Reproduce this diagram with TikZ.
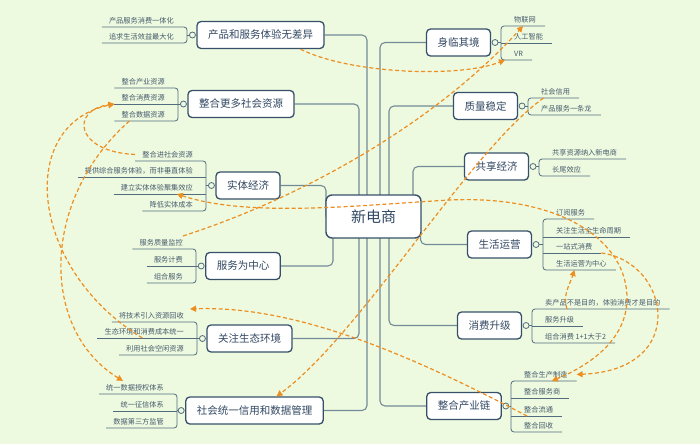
\documentclass[tikz,border=0pt]{standalone}
\usepackage{fontspec}
\newfontfamily\cjk{Noto Sans CJK SC}
\usetikzlibrary{positioning,arrows.meta}
\definecolor{bgcol}{RGB}{238,250,224}
\definecolor{boxline}{RGB}{55,80,105}
\definecolor{boxtext}{RGB}{50,72,98}
\definecolor{branchline}{RGB}{115,138,152}
\definecolor{subline}{RGB}{82,108,128}
\definecolor{subtext}{RGB}{70,90,108}
\definecolor{relline}{RGB}{236,142,32}
\pgfdeclarelayer{back}
\pgfdeclarelayer{lines}
\pgfsetlayers{back,lines,main}
\tikzset{
  rootbox/.style={draw=boxline, line width=1.4pt, fill=white, rounded corners=6pt, text=boxtext,
    font=\cjk\fontsize{15}{18}\selectfont, minimum height=43pt, inner xsep=25pt},
  topicbox/.style={draw=boxline, line width=1.3pt, fill=white, rounded corners=4pt, text=boxtext,
    font=\cjk\fontsize{10.5}{12}\selectfont, minimum height=27pt, inner xsep=11pt},
  knob/.style={circle, draw=subline, line width=0.8pt, fill=bgcol, minimum size=6pt, inner sep=0pt},
  subl/.style={anchor=south east, text=subtext, font=\cjk\fontsize{7.2}{8}\selectfont,
    inner xsep=0pt, inner ysep=3pt, execute at begin node=\hspace*{7pt}, execute at end node=\hspace*{13pt}},
  subr/.style={anchor=south west, text=subtext, font=\cjk\fontsize{7.2}{8}\selectfont,
    inner xsep=0pt, inner ysep=3pt, execute at begin node=\hspace*{13pt}, execute at end node=\hspace*{9pt}},
  bracket/.style={draw=subline, line width=0.8pt, rounded corners=3pt},
  branch/.style={draw=branchline, line width=1.1pt, rounded corners=5pt},
  rel/.style={draw=relline, line width=1.2pt, dash pattern=on 4pt off 2.5pt, -{Triangle[length=6pt,width=6pt]}},
  relboth/.style={rel, {Triangle[length=6pt,width=6pt]}-{Triangle[length=6pt,width=6pt]}},
}
\begin{document}
\begin{tikzpicture}[x=1pt,y=-1pt]
\begin{pgfonlayer}{back}
\fill[bgcol] (0,0) rectangle (700,444);
\end{pgfonlayer}
\useasboundingbox (0,0) rectangle (700,444);

\node[rootbox] (xds) at (373.5,216.5) {新电商};

\node[topicbox] (cpfw) at (260.5,35) {产品和服务体验无差异};
\node[topicbox] (zhzy) at (241,104) {整合更多社会资源};
\node[topicbox] (stjj) at (248,185.5) {实体经济};
\node[topicbox] (fwzx) at (243,266) {服务为中心};
\node[topicbox] (gzst) at (249.5,338.5) {关注生态环境};
\node[topicbox] (tyxy) at (254.5,410.5) {社会统一信用和数据管理};
\node[topicbox] (sljj) at (458.5,42.5) {身临其境};
\node[topicbox] (zlwd) at (485.5,106) {质量稳定};
\node[topicbox] (gxjj) at (496.5,166.5) {共享经济};
\node[topicbox] (shyy) at (499.5,244.5) {生活运营};
\node[topicbox] (xfsj) at (489.5,325.5) {消费升级};
\node[topicbox] (cyl) at (464,406) {整合产业链};

\node[knob, left=0.5pt of cpfw] (kcpfw) {};
\node[knob, left=0.5pt of zhzy] (kzhzy) {};
\node[knob, left=0.5pt of stjj] (kstjj) {};
\node[knob, left=0.5pt of fwzx] (kfwzx) {};
\node[knob, left=0.5pt of gzst] (kgzst) {};
\node[knob, left=0.5pt of tyxy] (ktyxy) {};
\node[knob, right=0.5pt of sljj] (ksljj) {};
\node[knob, right=0.5pt of zlwd] (kzlwd) {};
\node[knob, right=0.5pt of gxjj] (kgxjj) {};
\node[knob, right=0.5pt of shyy] (kshyy) {};
\node[knob, right=0.5pt of xfsj] (kxfsj) {};
\node[knob, right=0.5pt of cyl] (kcyl) {};

\node[subl] (yth) at (187,27) {产品服务消费一体化};
\node[subl] (zdh) at (187,43) {追求生活效益最大化};
\node[subl] (cyzy) at (178,88) {整合产业资源};
\node[subl] (xfzy) at (178,104) {整合消费资源};
\node[subl] (sjzy) at (178,121) {整合数据资源};
\node[subl] (jrsh) at (206,161) {整合进社会资源};
\node[subl] (zhty) at (206,177) {提供综合服务体验，而非垂直体验};
\node[subl] (jjxy) at (206,194) {建立实体体验聚集效应};
\node[subl] (stcb) at (206,211) {降低实体成本};
\node[subl] (zljk) at (196,249) {服务质量监控};
\node[subl] (fwjf) at (196,266) {服务计费};
\node[subl] (zhfw) at (196,283) {组合服务};
\node[subl] (zyhs) at (197,322) {将技术引入资源回收};
\node[subl] (cbty) at (197,338) {生态环境和消费成本统一};
\node[subl] (kxzy) at (197,355) {利用社会空闲资源};
\node[subl] (sqtx) at (177,394) {统一数据授权体系};
\node[subl] (zxtx) at (177,411) {统一征信体系};
\node[subl] (dsfjg) at (177,428) {数据第三方监管};

\node[subr] (wlw) at (501,26) {物联网};
\node[subr] (rgzn) at (501,43) {人工智能};
\node[subr] (vr) at (501,60) {VR};
\node[subr] (shxy) at (528,98) {社会信用};
\node[subr] (ytl) at (528,115) {产品服务一条龙};
\node[subr] (gxzy) at (539,159) {共享资源纳入新电商};
\node[subr] (cwxy) at (539,176) {长尾效应};
\node[subr] (dyfw) at (543,219) {订阅服务};
\node[subr] (smzq) at (543,237) {关注生活全生命周期};
\node[subr] (yzs) at (543,253) {一站式消费};
\node[subr] (yyzx) at (543,270) {生活运营为中心};
\node[subr] (tyxf) at (532,309) {卖产品不是目的，体验消费才是目的};
\node[subr] (fwsj) at (532,326) {服务升级};
\node[subr] (zhxf) at (532,343) {组合消费 1+1大于2};
\node[subr] (sczz) at (511,381) {整合生产制造};
\node[subr] (fws) at (511,398) {整合服务商};
\node[subr] (lt) at (511,416) {整合流通};
\node[subr] (hs) at (511,432) {整合回收};

\begin{pgfonlayer}{lines}
\draw[branch] ([xshift=-6.5pt]xds.center) |- (cpfw.east);
\draw[branch] ([xshift=-6.5pt]xds.center) |- (tyxy.east);
\draw[branch] ([xshift=-14.5pt]xds.center) |- (zhzy.east);
\draw[branch] ([xshift=-14.5pt]xds.center) |- (gzst.east);
\draw[branch] ([xshift=-47.5pt]xds.center) |- (stjj.east);
\draw[branch] ([xshift=-40.5pt]xds.center) |- (fwzx.east);
\draw[branch] ([xshift=6.5pt]xds.center) |- (sljj.west);
\draw[branch] ([xshift=6.5pt]xds.center) |- (cyl.west);
\draw[branch] ([xshift=15.5pt]xds.center) |- (zlwd.west);
\draw[branch] ([xshift=15.5pt]xds.center) |- (xfsj.west);
\draw[branch] ([xshift=39.5pt]xds.center) |- (gxjj.west);
\draw[branch] ([xshift=47pt]xds.center) |- (shyy.west);
\end{pgfonlayer}

\draw[bracket] (yth.south west) -- (yth.south east) -- (zdh.south east) -- (zdh.south west);
\draw[bracket] (kcpfw.west) -- (kcpfw.west -| yth.south east);
\draw[bracket] (cyzy.south west) -- (cyzy.south east) -- (sjzy.south east) -- (sjzy.south west);
\draw[bracket] (xfzy.south west) -- (xfzy.south east);
\draw[bracket] (kzhzy.west) -- (kzhzy.west -| cyzy.south east);
\draw[bracket] (jrsh.south west) -- (jrsh.south east) -- (stcb.south east) -- (stcb.south west);
\draw[bracket] (zhty.south west) -- (zhty.south east);
\draw[bracket] (jjxy.south west) -- (jjxy.south east);
\draw[bracket] (kstjj.west) -- (kstjj.west -| jrsh.south east);
\draw[bracket] (zljk.south west) -- (zljk.south east) -- (zhfw.south east) -- (zhfw.south west);
\draw[bracket] (fwjf.south west) -- (fwjf.south east);
\draw[bracket] (kfwzx.west) -- (kfwzx.west -| zljk.south east);
\draw[bracket] (zyhs.south west) -- (zyhs.south east) -- (kxzy.south east) -- (kxzy.south west);
\draw[bracket] (cbty.south west) -- (cbty.south east);
\draw[bracket] (kgzst.west) -- (kgzst.west -| zyhs.south east);
\draw[bracket] (sqtx.south west) -- (sqtx.south east) -- (dsfjg.south east) -- (dsfjg.south west);
\draw[bracket] (zxtx.south west) -- (zxtx.south east);
\draw[bracket] (ktyxy.west) -- (ktyxy.west -| sqtx.south east);

\draw[bracket] (wlw.south east) -- (wlw.south west) -- (vr.south west) -- (vr.south east);
\draw[bracket] (rgzn.south west) -- (rgzn.south east);
\draw[bracket] (ksljj.east) -- (ksljj.east -| wlw.south west);
\draw[bracket] (shxy.south east) -- (shxy.south west) -- (ytl.south west) -- (ytl.south east);
\draw[bracket] (kzlwd.east) -- (kzlwd.east -| shxy.south west);
\draw[bracket] (gxzy.south east) -- (gxzy.south west) -- (cwxy.south west) -- (cwxy.south east);
\draw[bracket] (kgxjj.east) -- (kgxjj.east -| gxzy.south west);
\draw[bracket] (dyfw.south east) -- (dyfw.south west) -- (yyzx.south west) -- (yyzx.south east);
\draw[bracket] (smzq.south west) -- (smzq.south east);
\draw[bracket] (yzs.south west) -- (yzs.south east);
\draw[bracket] (kshyy.east) -- (kshyy.east -| dyfw.south west);
\draw[bracket] (tyxf.south east) -- (tyxf.south west) -- (zhxf.south west) -- (zhxf.south east);
\draw[bracket] (fwsj.south west) -- (fwsj.south east);
\draw[bracket] (kxfsj.east) -- (kxfsj.east -| tyxf.south west);
\draw[bracket] (sczz.south east) -- (sczz.south west) -- (hs.south west) -- (hs.south east);
\draw[bracket] (fws.south west) -- (fws.south east);
\draw[bracket] (lt.south west) -- (lt.south east);
\draw[bracket] (kcyl.east) -- (kcyl.east -| sczz.south west);

\draw[rel] ([xshift=40pt]cpfw.south) .. controls (350,74) and (460,78) .. ([xshift=4pt]vr.south west);
\draw[rel] ([xshift=-13pt]zljk.north east) .. controls (310,195) and (440,118) .. (wlw.south);
\draw[rel] ([xshift=-10pt]shxy.south) .. controls (470,150) and (360,335) .. ([xshift=22pt]tyxy.north);
\draw[relboth] ([xshift=17pt]jjxy.south) .. controls (250,218) and (360,205) .. (450,200)
  .. controls (560,195) and (628,240) .. (627,300) .. controls (626,340) and (590,365) .. ([xshift=8pt]sczz.south);
\draw[rel] (yzs.south east) .. controls (670,262) and (690,370) .. (sczz.east);
\draw[rel] ([xshift=35pt]tyxf.south west) .. controls (562,296) and (570,284) .. ([xshift=-5pt]yyzx.south);
\draw[rel] (jrsh.west) .. controls (75,152) and (70,110) .. (xfzy.south west);
\draw[rel] ([xshift=45pt]cbty.south west) .. controls (30,270) and (15,125) .. (xfzy.south west);
\draw[rel] ([xshift=15pt]sjzy.south west) .. controls (40,200) and (40,330) .. ([xshift=-15pt]sqtx.north);
\draw[rel] ([xshift=16pt]lt.south west) .. controls (420,360) and (300,305) .. ([xshift=-7pt]zyhs.north east);
\end{tikzpicture}
\end{document}
